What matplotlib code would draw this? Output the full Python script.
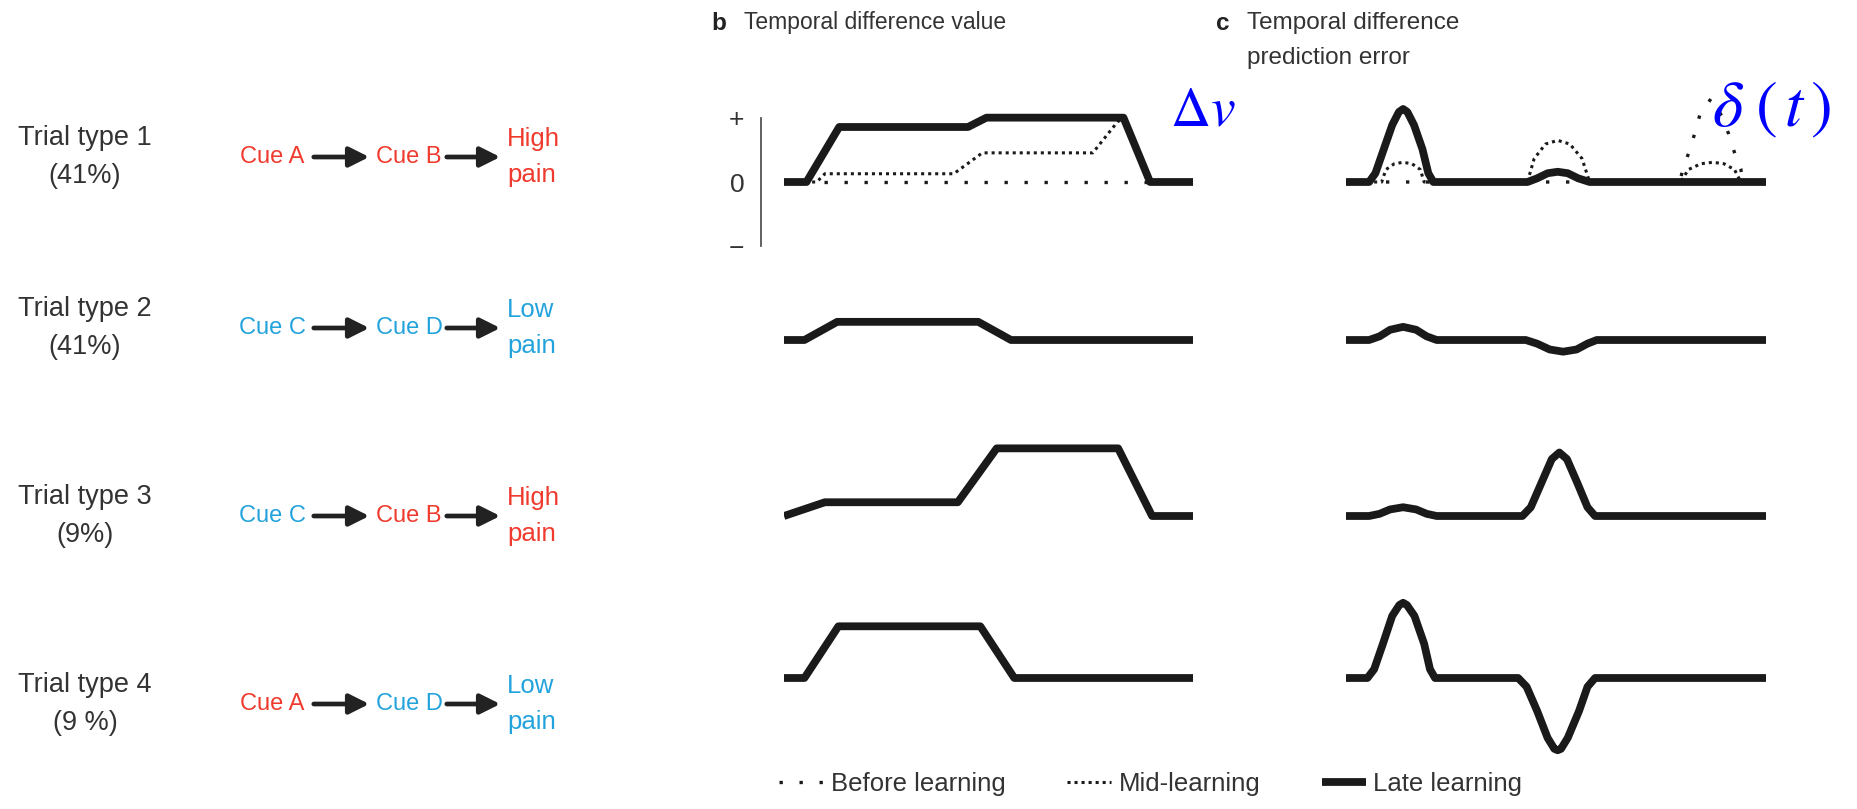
import matplotlib
matplotlib.use('Agg')
import matplotlib.pyplot as plt
from matplotlib.patches import FancyArrowPatch

plt.rcParams['font.family'] = ['Liberation Sans', 'DejaVu Sans']
plt.rcParams['mathtext.fontset'] = 'stix'

W, H = 1858, 809

# ---- left column: trial structure ----
trial_names = ['Trial type 1', 'Trial type 2', 'Trial type 3', 'Trial type 4']
trial_shares = ['(41%)', '(41%)', '(9%)', '(9 %)']
first_cues = ['Cue A', 'Cue C', 'Cue C', 'Cue A']
second_cues = ['Cue B', 'Cue D', 'Cue B', 'Cue D']
outcomes = ['High\npain', 'Low\npain', 'High\npain', 'Low\npain']

# ---- b: temporal difference value (time 0..100, value units) ----
b1_late_t = [0, 5.5, 13.5, 45, 49.5, 83, 89.5, 100]
b1_late_v = [0, 0, 1.0, 1.0, 1.17, 1.17, 0, 0]
b1_mid_t = [0, 8, 10, 41.5, 48.5, 75.5, 81.5, 83, 89.5, 100]
b1_mid_v = [0, 0, 0.15, 0.15, 0.53, 0.53, 1.09, 1.17, 0, 0]
b1_before_t = [0, 100]
b1_before_v = [0, 0]
b2_late_t = [0, 5, 13, 47.5, 55.5, 100]
b2_late_v = [0, 0, 0.33, 0.33, 0, 0]
b3_late_t = [0, 4, 10, 42.5, 52, 81.7, 90, 100]
b3_late_v = [0, 0.1, 0.25, 0.25, 1.23, 1.23, 0, 0]
b4_late_t = [0, 5, 13.3, 48, 56.3, 100]
b4_late_v = [0, 0, 0.94, 0.94, 0, 0]

# ---- c: temporal difference prediction error ----
c1_late_t = [0, 5.5, 7.0, 9.0, 11.0, 12.6, 13.6, 14.6, 16.2, 18.2, 19.6, 20.8,
             43.2, 45.5, 48, 50.4, 52.8, 55.3, 58, 100]
c1_late_v = [0, 0, 0.12, 0.45, 0.78, 0.96, 1.0, 0.96, 0.78, 0.45, 0.12, 0,
             0, 0.05, 0.12, 0.14, 0.12, 0.05, 0, 0]
c1_mid_t = [0, 8.5, 9.5, 11.5, 13.6, 15.7, 17.7, 18.6,
            43.2, 44.8, 47.5, 50.4, 53.3, 56.2, 58,
            79.7, 81.5, 84.5, 87.3, 90, 92.5, 94, 100]
c1_mid_v = [0, 0, 0.17, 0.25, 0.27, 0.25, 0.17, 0,
            0, 0.32, 0.52, 0.57, 0.52, 0.32, 0,
            0, 0.17, 0.25, 0.27, 0.25, 0.17, 0, 0]
c1_before_t = [0, 79.5, 80.2, 81.8, 83.1, 84.3, 86.9, 89.4, 91.1, 92.4, 94.0, 94.5, 100]
c1_before_v = [0, 0, 0.18, 0.43, 0.68, 0.93, 1.14, 0.91, 0.66, 0.42, 0.18, 0, 0]
c2_late_t = [0, 5.5, 8, 10.5, 13.6, 16.7, 19.2, 21.6,
             42.8, 45.5, 48.5, 51.7, 54.9, 57.5, 59.7, 100]
c2_late_v = [0, 0, 0.05, 0.14, 0.18, 0.14, 0.05, 0,
             0, -0.05, -0.13, -0.16, -0.13, -0.05, 0, 0]
c3_late_t = [0, 5.5, 8, 10.5, 13.6, 16.7, 19.2, 21.6,
             42, 44, 46.5, 49, 50.8, 52.6, 55.1, 57.5, 59.3, 100]
c3_late_v = [0, 0, 0.03, 0.09, 0.12, 0.09, 0.03, 0,
             0, 0.12, 0.45, 0.78, 0.87, 0.78, 0.45, 0.12, 0, 0]
c4_late_t = [0, 5.1, 6.7, 8.8, 11.0, 12.7, 13.6, 14.5, 16.3, 18.6, 20.0, 21.2,
             41, 43, 45.5, 48, 49.6, 50.4, 51.2, 52.8, 55.5, 57.5, 59.3, 100]
c4_late_v = [0, 0, 0.12, 0.47, 0.85, 1.0, 1.03, 1.0, 0.85, 0.47, 0.12, 0,
             0, -0.12, -0.45, -0.82, -0.97, -0.99, -0.97, -0.82, -0.45, -0.12, 0, 0]

legend_labels = ['Before learning', 'Mid-learning', 'Late learning']

RED = '#ef3a2d'
BLUE = '#23a3dc'
INK = '#1a1a1a'
cue_colors = {'Cue A': RED, 'Cue B': RED, 'Cue C': BLUE, 'Cue D': BLUE,
              'High\npain': RED, 'Low\npain': BLUE}

row_base = [182, 340, 516, 678]


def fx(x):
    return x / W


def fy(y):
    return 1 - y / H


def row_axes(fig, x0, x1, base, px_unit, lim):
    ax = fig.add_axes([fx(x0), fy(base + lim * px_unit), (x1 - x0) / W,
                       2 * lim * px_unit / H])
    ax.set_xlim(0, 100)
    ax.set_ylim(-lim, lim)
    ax.patch.set_alpha(0)
    ax.set_axis_off()
    return ax


late_kw = dict(color=INK, lw=5.6, solid_joinstyle='round', solid_capstyle='butt', zorder=3)
mid_kw = dict(color=INK, lw=2.2, linestyle=(0, (1, 1.3)), zorder=2)
before_kw = dict(color=INK, lw=2.4, linestyle=(0, (1, 5)), zorder=1)

fig = plt.figure(figsize=(W / 100, H / 100), dpi=100)

# left column
cue_y = [157, 328, 516, 704]
for i in range(4):
    fig.text(fx(85), fy(cue_y[i]), trial_names[i] + '\n' + trial_shares[i],
             ha='center', va='center', fontsize=19.5, color='#333333', linespacing=1.6)
    fig.text(fx(272), fy(cue_y[i]), first_cues[i], ha='center', va='center',
             fontsize=17, color=cue_colors[first_cues[i]])
    fig.text(fx(409), fy(cue_y[i]), second_cues[i], ha='center', va='center',
             fontsize=17, color=cue_colors[second_cues[i]])
    fig.text(fx(507), fy(cue_y[i]), outcomes[i], ha='left', va='center',
             fontsize=18.5, color=cue_colors[outcomes[i]], linespacing=1.6)
    for xa, xb in [(311, 372), (444, 503)]:
        fig.add_artist(FancyArrowPatch((fx(xa), fy(cue_y[i])), (fx(xb), fy(cue_y[i])),
                                       transform=fig.transFigure, arrowstyle='-|>',
                                       mutation_scale=30, lw=3.4, color='#222222'))

# panel b
b_rows = [(b1_late_t, b1_late_v), (b2_late_t, b2_late_v),
          (b3_late_t, b3_late_v), (b4_late_t, b4_late_v)]
handles = []
for i, (t, v) in enumerate(b_rows):
    ax = row_axes(fig, 784, 1193, row_base[i], 55, 1.5)
    if i == 0:
        h0, = ax.plot(b1_before_t, b1_before_v, label=legend_labels[0], **before_kw)
        h1, = ax.plot(b1_mid_t, b1_mid_v, label=legend_labels[1], **mid_kw)
        handles = [h0, h1]
        ax.set_axis_on()
        ax.spines[['top', 'right', 'bottom']].set_visible(False)
        ax.xaxis.set_visible(False)
        ax.spines['left'].set_position(('axes', -0.056))
        ax.spines['left'].set_bounds(-1.17, 1.17)
        ax.spines['left'].set_color('#555555')
        ax.spines['left'].set_linewidth(1.3)
        ax.set_yticks([-1.17, 0, 1.17], ['\u2212', '0', '+'])
        ax.tick_params(axis='y', length=0, pad=12, labelsize=19, labelcolor='#333333')
    h2, = ax.plot(t, v, label=legend_labels[2], **late_kw)
    if i == 0:
        handles.append(h2)

# panel c
c_rows = [(c1_late_t, c1_late_v), (c2_late_t, c2_late_v),
          (c3_late_t, c3_late_v), (c4_late_t, c4_late_v)]
for i, (t, v) in enumerate(c_rows):
    ax = row_axes(fig, 1346, 1766, row_base[i], 73, 1.2)
    if i == 0:
        ax.plot(c1_before_t, c1_before_v, **before_kw)
        ax.plot(c1_mid_t, c1_mid_v, **mid_kw)
    ax.plot(t, v, **late_kw)

# titles
fig.text(fx(711), fy(23), 'b', fontsize=17.5, fontweight='bold', va='center', color='#222222')
fig.text(fx(744), fy(23), 'Temporal difference value', fontsize=16.5, va='center', color='#333333')
fig.text(fx(1216), fy(23), 'c', fontsize=17.5, fontweight='bold', va='center', color='#222222')
fig.text(fx(1247), fy(23), 'Temporal difference', fontsize=17.5, va='center', color='#333333')
fig.text(fx(1247), fy(58), 'prediction error', fontsize=17.5, va='center', color='#333333')

fig.text(fx(1203), fy(111), r'$\Delta v$', fontsize=40, color='blue', ha='center', va='center')
fig.text(fx(1772), fy(110), r'$\delta\;(\,t\,)$', fontsize=47, color='blue', ha='center', va='center')

fig.legend(handles=handles, labels=legend_labels, loc='center',
           bbox_to_anchor=(fx(1151), fy(784)), ncol=3, frameon=False, fontsize=18.5,
           handlelength=1.7, handletextpad=0.3, columnspacing=2.4, labelcolor='#333333')

fig.savefig('out.png', dpi=100)
